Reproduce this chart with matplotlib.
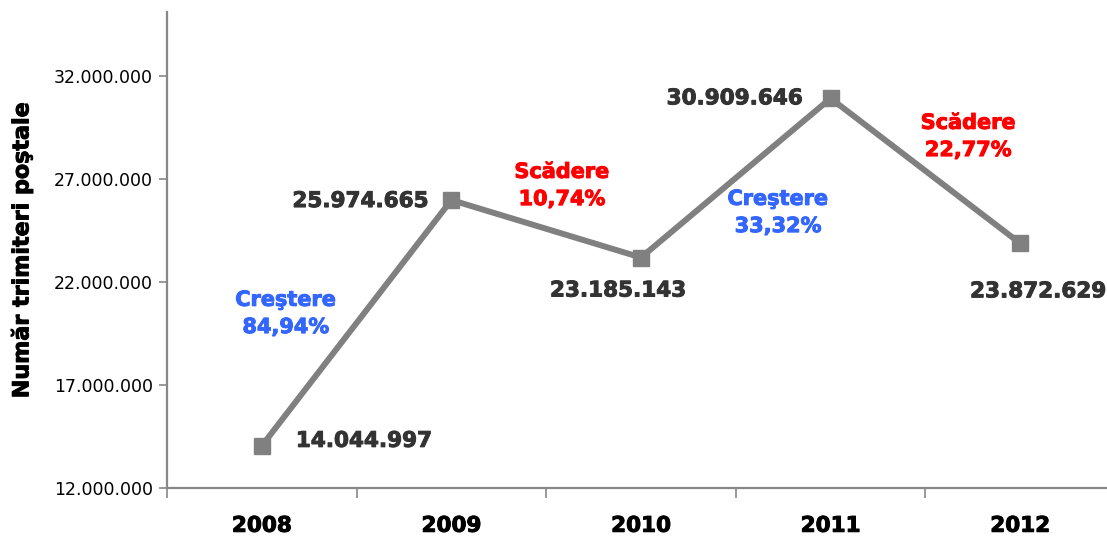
import matplotlib
matplotlib.use("Agg")
import matplotlib.pyplot as plt
import matplotlib.patheffects as pe
from matplotlib.ticker import FuncFormatter, FixedLocator

years = ["2008", "2009", "2010", "2011", "2012"]
values = [14044997, 25974665, 23185143, 30909646, 23872629]
change_words = ["Creştere", "Scădere", "Creştere", "Scădere"]
change_pcts = ["84,94%", "10,74%", "33,32%", "22,77%"]
yticks = [12000000, 17000000, 22000000, 27000000, 32000000]

BLUE = "#3366ff"
RED = "#ff0000"
GRAY = "#808080"
AXIS = "#888888"
DARK = "#333333"


def dots(v, _pos=None):
    return f"{int(v):,}".replace(",", ".")


def heavy(color):
    # thicken DejaVu Bold a little so it reads like the Tahoma Bold original
    return [pe.withStroke(linewidth=0.7, foreground=color)]


plt.rcParams["font.family"] = ["DejaVu Sans"]

fig = plt.figure(figsize=(11.07, 5.38), dpi=100)
ax = fig.add_axes([167 / 1107, 50 / 538, 948 / 1107, 476 / 538])

x = list(range(len(years)))
ax.plot(x, values, color=GRAY, linewidth=4.3, marker="s", markersize=12,
        solid_joinstyle="miter", zorder=3)

ax.set_xlim(-0.5, 4.5)
ax.set_ylim(12000000, 35100000)

ax.set_yticks(yticks)
ax.yaxis.set_major_formatter(FuncFormatter(dots))
ax.tick_params(axis="y", direction="out", length=6, width=1.2, color=AXIS,
               labelsize=12.5, pad=4)

ax.set_xticks(x)
ax.set_xticklabels(years, fontsize=15.5, fontweight="bold")
for t in ax.get_xticklabels():
    t.set_path_effects(heavy("black"))
ax.tick_params(axis="x", which="major", length=0, pad=20)
ax.xaxis.set_minor_locator(FixedLocator([-0.5, 0.5, 1.5, 2.5, 3.5, 4.5]))
ax.tick_params(axis="x", which="minor", direction="out", length=7, width=1.2,
               color=AXIS)

for side in ("top", "right"):
    ax.spines[side].set_visible(False)
for side in ("left", "bottom"):
    ax.spines[side].set_color(AXIS)
    ax.spines[side].set_linewidth(1.6)

ylab = ax.set_ylabel("Număr trimiteri poştale", fontsize=16, fontweight="bold")
ylab.set_path_effects(heavy("black"))
ax.yaxis.set_label_coords(-0.142, 0.5)

# value labels: offsets in pixels from each point
label_offsets = [(102, 5), (-91, -1), (-23, -33), (-96, 0), (18, -48)]
for xi, v, (dx, dy) in zip(x, values, label_offsets):
    ax.annotate(dots(v), (xi, v), xytext=(dx, dy), textcoords="offset pixels",
                ha="center", va="center", fontsize=15.5, fontweight="bold",
                color=DARK, annotation_clip=False, path_effects=heavy(DARK))

# change annotations between points
change_pos = [(0.127, 20470000), (1.583, 26680000), (2.723, 25370000),
              (3.726, 29060000)]
for (px, py), word, pct in zip(change_pos, change_words, change_pcts):
    col = BLUE if word.startswith("Cre") else RED
    ax.text(px, py, f"{word}\n{pct}", ha="center", va="center",
            fontsize=15, fontweight="bold", color=col, linespacing=1.45,
            path_effects=heavy(col))

fig.savefig("out.png", dpi=100)
